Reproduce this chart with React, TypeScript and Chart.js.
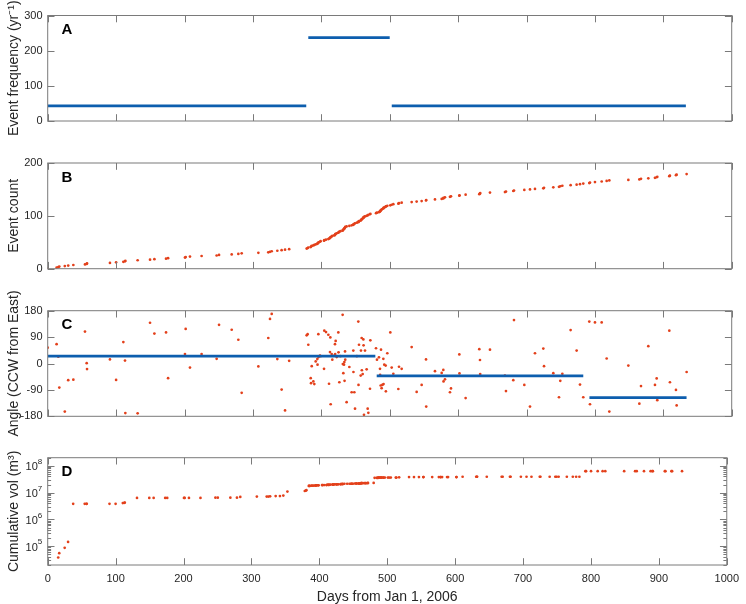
import React, { useEffect, useRef } from 'react';
import { Chart, registerables } from 'chart.js';

Chart.register(...registerables);

// ---------------- DATA ----------------
const xTickValues = [0, 100, 200, 300, 400, 500, 600, 700, 800, 900, 1000];
const freqTicks = [0, 100, 200, 300];
const countTicks = [0, 100, 200];
const angleTicks = [-180, -90, 0, 90, 180];
const volDecades = [1e5, 1e6, 1e7, 1e8];
const volExponents = ['5', '6', '7', '8'];

// Panel A: event frequency segments (yr^-1)
const freqStart = [0, 381, 503];
const freqEnd = [378, 500, 933];
const freqRate = [43, 237, 43];

// Panel C: mean angle segments (deg)
const angleStart = [0, 481, 792];
const angleEnd = [479, 783, 934];
const angleMean = [25, -42, -116];

// Events: day of each event
const eventDays = [
  0, 13, 15.5, 17, 25, 30, 37.5, 54.5, 57, 57.5,
  91, 100, 110.6, 113, 113.5, 131.5, 149.6, 156, 173, 176,
  200.7, 201.7, 208, 225, 247, 250.5, 269, 278.7, 283.6, 308,
  322.5, 325, 327.5, 335.7, 342, 347, 353, 378.6, 380, 381,
  384.5, 385, 386, 388.4, 389.8, 391.8, 394.2, 394.5, 395.7, 396,
  398, 399, 404, 404.4, 406.9, 410.3, 411.3, 412.7, 413.2, 413.7,
  415.2, 416.1, 419, 420, 420.3, 421, 422.5, 424.9, 425.2, 426.4,
  428, 431.2, 431.5, 432.2, 433.2, 433.7, 434, 434.7, 435, 437,
  441, 444.4, 446.8, 447, 448.3, 449.3, 452, 454.1, 454.4, 455.1,
  457.6, 458, 459, 459.3, 460.5, 461.5, 461.8, 462.4, 463.9, 466.3,
  467.8, 468.8, 471.2, 471.7, 480, 481.4, 484.3, 485.8, 486, 486.8,
  487.3, 488.2, 489.2, 490.7, 491, 492.1, 494.1, 494.4, 496.5, 500.9,
  502.9, 505.3, 512.6, 513.6, 517.5, 532.1, 539.4, 546.7, 553.1, 553.4,
  566.2, 576, 578.4, 578.7, 580.8, 588.1, 589.6, 601.8, 602, 611,
  631, 632, 632.3, 646.6, 668.5, 670, 680.7, 681.7, 696.8, 705.1,
  712.4, 724.6, 725.6, 739.2, 747.5, 749.4, 752.4, 764.5, 773.3, 778.2,
  783, 791.8, 792.8, 800.1, 809.9, 817.2, 821.1, 848.9, 865, 867.4,
  878.1, 887.8, 890.3, 891.2, 908.8, 909.7, 918.5, 919.5, 934.1,
];

// Panel B: cumulative event count
const eventCounts = [
  1, 2, 3, 4, 5, 6, 7, 8, 9, 10,
  11, 12, 13, 14, 15, 16, 17, 18, 19, 20,
  21, 22, 23, 24, 25, 26, 27, 28, 29, 30,
  31, 32, 33, 34, 35, 36, 37, 38, 39, 40,
  41, 42, 43, 44, 45, 46, 47, 48, 49, 50,
  51, 52, 53, 54, 55, 56, 57, 58, 59, 60,
  61, 62, 63, 64, 65, 66, 67, 68, 69, 70,
  71, 72, 73, 74, 75, 76, 77, 78, 79, 80,
  81, 82, 83, 84, 85, 86, 87, 88, 89, 90,
  91, 92, 93, 94, 95, 96, 97, 98, 99, 100,
  101, 102, 103, 104, 105, 106, 107, 108, 109, 110,
  111, 112, 113, 114, 115, 116, 117, 118, 119, 120,
  121, 122, 123, 124, 125, 126, 127, 128, 129, 130,
  131, 132, 133, 134, 135, 136, 137, 138, 139, 140,
  141, 142, 143, 144, 145, 146, 147, 148, 149, 150,
  151, 152, 153, 154, 155, 156, 157, 158, 159, 160,
  161, 162, 163, 164, 165, 166, 167, 168, 169, 170,
  171, 172, 173, 174, 175, 176, 177, 178, 179,
];

// Panel C: angle of each event (deg CCW from East)
const eventAngles = [
  54, 66, 23, -82, -164, -57, -55, 109, 1, -19,
  14, -56, 73, 10, -169, -170, 139, 102, 106, -50,
  32, 118, -14, 32, 16, 132, 115, 81, -100, -10,
  87, 152, 169, 15, -89, -160, 9, 96, 100, 64,
  -50, -67, -9, -61, -70, 7, 15, -4, 100, 22,
  27, 25, -18, 112, 107, 98, -69, 39, 89, -139,
  32, 13, 27, 66, 32, 77, 22, 106, 38, -64,
  25, 166, -2, -33, -4, 5, -59, 41, 13, -132,
  -12, -98, 44, -29, -98, -154, 25, 143, -73, 64,
  -41, 44, 87, -23, -36, 82, 62, -175, 44, -20,
  -154, -168, -86, 79, 52, 13, 21, -18, -39, -75,
  47, -84, -73, 16, -70, -4, -7, -95, 35, 106,
  -14, -35, -87, -11, -18, 56, -97, -73, 14, -147,
  -26, -32, -22, -61, -54, -98, -85, 31, -34, -118,
  49, 12, -36, 47, -41, -94, -57, 148, -73, -147,
  35, 51, -9, -33, -115, -59, -35, 114, 44, -72,
  -115, 143, -139, 140, 140, 17, -164, -7, -137, -77,
  59, -73, -51, -125, 112, -64, -90, -143, -29,
];

// Panel D: log10 of cumulative volume (m^3); null = below axis range
const cumVolLog10 = [
  null, null, 4.58, 4.74, 4.94, 5.16, 6.58, 6.58, 6.58, 6.58,
  6.58, 6.58, 6.61, 6.62, 6.63, 6.8, 6.8, 6.8, 6.8, 6.8,
  6.8, 6.8, 6.8, 6.8, 6.81, 6.81, 6.81, 6.81, 6.84, 6.85,
  6.85, 6.85, 6.86, 6.87, 6.87, 6.89, 7.04, 7.06, 7.07, 7.09,
  7.25, 7.25, 7.25, 7.26, 7.26, 7.26, 7.26, 7.27, 7.27, 7.27,
  7.27, 7.27, 7.28, 7.28, 7.28, 7.28, 7.29, 7.29, 7.29, 7.29,
  7.29, 7.3, 7.3, 7.3, 7.3, 7.3, 7.31, 7.31, 7.31, 7.31,
  7.31, 7.31, 7.32, 7.32, 7.32, 7.32, 7.32, 7.32, 7.32, 7.33,
  7.33, 7.33, 7.33, 7.33, 7.33, 7.33, 7.34, 7.34, 7.34, 7.34,
  7.34, 7.34, 7.34, 7.34, 7.34, 7.35, 7.35, 7.35, 7.35, 7.35,
  7.35, 7.35, 7.35, 7.36, 7.36, 7.55, 7.55, 7.55, 7.55, 7.55,
  7.56, 7.56, 7.56, 7.56, 7.56, 7.56, 7.56, 7.56, 7.56, 7.56,
  7.56, 7.56, 7.56, 7.56, 7.57, 7.58, 7.58, 7.58, 7.58, 7.58,
  7.58, 7.58, 7.58, 7.58, 7.58, 7.58, 7.58, 7.58, 7.58, 7.59,
  7.59, 7.59, 7.59, 7.59, 7.59, 7.59, 7.59, 7.59, 7.59, 7.59,
  7.59, 7.59, 7.59, 7.59, 7.59, 7.59, 7.59, 7.59, 7.59, 7.59,
  7.59, 7.8, 7.8, 7.8, 7.8, 7.8, 7.8, 7.8, 7.8, 7.8,
  7.8, 7.8, 7.8, 7.8, 7.8, 7.8, 7.8, 7.8, 7.8,
];

// ---------------- STYLE / LAYOUT ----------------
const W = 746;
const H = 604;
const PLOT_LEFT = 47.7;
const PLOT_RIGHT = 731.7;
const FONT = '"Liberation Sans", Arial, Helvetica, sans-serif';
const TEXT = '#262626';
const AXIS = '#7a7a7a';
const BLUE = '#0d5eae';
const RED = '#e3401b';
const TICK_LEN = 6.8;

type PanelDef = {
  letter: string;
  top: number;
  bottom: number;
  yTitle: string;
  yType: 'linear' | 'logarithmic';
  yMin: number;
  yMax: number;
  yTicks: number[];
  showX: boolean;
  datasets: any[];
};

function segmentDatasets(starts: number[], ends: number[], vals: number[]) {
  return starts.map((s, i) => ({
    data: [
      { x: s, y: vals[i] },
      { x: ends[i], y: vals[i] },
    ],
    showLine: true,
    borderColor: BLUE,
    borderWidth: 2.7,
    borderCapStyle: 'butt',
    pointRadius: 0,
    pointHoverRadius: 0,
  }));
}

function dotDataset(points: { x: number; y: number | null }[]) {
  return {
    data: points,
    showLine: false,
    pointRadius: 1.35,
    pointHoverRadius: 1.35,
    pointBorderWidth: 0,
    pointBackgroundColor: RED,
    backgroundColor: RED,
    borderColor: RED,
  };
}

const panels: PanelDef[] = [
  {
    letter: 'A',
    top: 15.5,
    bottom: 121,
    yTitle: 'Event frequency (yr⁻¹)',
    yType: 'linear',
    yMin: 0,
    yMax: 300,
    yTicks: freqTicks,
    showX: false,
    datasets: segmentDatasets(freqStart, freqEnd, freqRate),
  },
  {
    letter: 'B',
    top: 163,
    bottom: 268.7,
    yTitle: 'Event count',
    yType: 'linear',
    yMin: 0,
    yMax: 200,
    yTicks: countTicks,
    showX: false,
    datasets: [dotDataset(eventDays.map((d, i) => ({ x: d, y: eventCounts[i] })))],
  },
  {
    letter: 'C',
    top: 310.7,
    bottom: 416.3,
    yTitle: 'Angle (CCW from East)',
    yType: 'linear',
    yMin: -180,
    yMax: 180,
    yTicks: angleTicks,
    showX: false,
    datasets: [
      ...segmentDatasets(angleStart, angleEnd, angleMean),
      dotDataset(eventDays.map((d, i) => ({ x: d, y: eventAngles[i] }))),
    ],
  },
  {
    letter: 'D',
    top: 457.7,
    bottom: 565,
    yTitle: 'Cumulative vol (m³)',
    yType: 'logarithmic',
    yMin: 2e4,
    yMax: 2e8,
    yTicks: volDecades,
    showX: true,
    datasets: [
      dotDataset(
        eventDays.map((d, i) => ({
          x: d,
          y: cumVolLog10[i] === null ? null : Math.pow(10, cumVolLog10[i] as number),
        }))
      ),
    ],
  },
];

function framePlugin(p: PanelDef) {
  return {
    id: 'matlabFrame' + p.letter,
    afterDraw(chart: any) {
      const ctx = chart.ctx;
      const { left, right, top, bottom } = chart.chartArea;
      const xs = chart.scales.x;
      const ys = chart.scales.y;
      ctx.save();
      ctx.strokeStyle = AXIS;
      ctx.lineWidth = 1;
      ctx.beginPath();
      xTickValues.forEach((v) => {
        const px = Math.round(xs.getPixelForValue(v)) + 0.5;
        ctx.moveTo(px, bottom);
        ctx.lineTo(px, bottom - TICK_LEN);
        ctx.moveTo(px, top);
        ctx.lineTo(px, top + TICK_LEN);
      });
      p.yTicks.forEach((v) => {
        const py = Math.round(ys.getPixelForValue(v)) + 0.5;
        ctx.moveTo(left, py);
        ctx.lineTo(left + TICK_LEN, py);
        ctx.moveTo(right, py);
        ctx.lineTo(right - TICK_LEN, py);
      });
      if (p.yType === 'logarithmic') {
        for (let k = 4; k <= 8; k++) {
          for (let m = 2; m <= 9; m++) {
            const v = m * Math.pow(10, k);
            if (v < p.yMin || v > p.yMax) continue;
            const py = Math.round(ys.getPixelForValue(v)) + 0.5;
            ctx.moveTo(left, py);
            ctx.lineTo(left + TICK_LEN / 2, py);
            ctx.moveTo(right, py);
            ctx.lineTo(right - TICK_LEN / 2, py);
          }
        }
      }
      ctx.stroke();
      ctx.strokeRect(left, top, right - left, bottom - top);

      if (p.yType === 'logarithmic') {
        ctx.fillStyle = TEXT;
        ctx.textAlign = 'right';
        ctx.textBaseline = 'middle';
        volDecades.forEach((v, i) => {
          const py = ys.getPixelForValue(v);
          ctx.font = `8px ${FONT}`;
          const ex = volExponents[i];
          const ew = ctx.measureText(ex).width;
          const xr = left - 5.5;
          ctx.fillText(ex, xr, py - 4);
          ctx.font = `11px ${FONT}`;
          ctx.fillText('10', xr - ew, py + 1.5);
        });
      }

      ctx.fillStyle = '#000';
      ctx.font = `bold 15px ${FONT}`;
      ctx.textAlign = 'left';
      ctx.textBaseline = 'alphabetic';
      ctx.fillText(p.letter, left + 13.8, top + 18.7);
      ctx.restore();
    },
  };
}

function Panel({ p }: { p: PanelDef }) {
  const ref = useRef<HTMLCanvasElement | null>(null);
  useEffect(() => {
    if (!ref.current) return;
    const chart = new Chart(ref.current, {
      type: 'scatter',
      data: { datasets: p.datasets },
      plugins: [framePlugin(p)],
      options: {
        animation: false,
        responsive: false,
        devicePixelRatio: window.devicePixelRatio || 1,
        events: [],
        layout: { padding: { top: p.top, right: W - PLOT_RIGHT, left: 0, bottom: 0 } },
        plugins: {
          legend: { display: false },
          tooltip: { enabled: false },
          title: { display: false },
        },
        scales: {
          x: {
            type: 'linear',
            position: 'bottom',
            min: 0,
            max: 1000,
            grid: { display: false, drawTicks: false },
            border: { display: false },
            afterBuildTicks: (s: any) => {
              s.ticks = xTickValues.map((v) => ({ value: v }));
            },
            ticks: {
              display: p.showX,
              padding: 7,
              autoSkip: false,
              maxRotation: 0,
              color: TEXT,
              font: { family: FONT, size: 11 },
              callback: (v: any) => String(v),
            },
            title: {
              display: p.showX,
              text: 'Days from Jan 1, 2006',
              color: TEXT,
              font: { family: FONT, size: 14 },
              padding: { top: 0, bottom: -1.5 },
            },
            afterFit: (s: any) => {
              s.height = H - p.bottom;
            },
          },
          y: {
            type: p.yType,
            position: 'left',
            min: p.yMin,
            max: p.yMax,
            grid: { display: false, drawTicks: false },
            border: { display: false },
            afterBuildTicks: (s: any) => {
              s.ticks = p.yTicks.map((v) => ({ value: v }));
            },
            ticks: {
              display: p.yType !== 'logarithmic',
              padding: 5.2,
              autoSkip: false,
              color: TEXT,
              font: { family: FONT, size: 11 },
              callback: (v: any) => String(v),
            },
            title: {
              display: true,
              text: p.yTitle,
              color: TEXT,
              font: { family: FONT, size: 14 },
              padding: { top: 6, bottom: 0 },
            },
            afterFit: (s: any) => {
              s.width = PLOT_LEFT;
            },
          },
        },
      } as any,
    });
    return () => chart.destroy();
  }, [p]);
  return (
    <canvas
      ref={ref}
      width={W}
      height={H}
      style={{ position: 'absolute', left: 0, top: 0, width: W, height: H }}
    />
  );
}

export default function App() {
  return (
    <div
      style={{
        position: 'fixed',
        left: 0,
        top: 0,
        width: W,
        height: H,
        background: '#fff',
        overflow: 'hidden',
      }}
    >
      {panels.map((p) => (
        <Panel key={p.letter} p={p} />
      ))}
    </div>
  );
}
